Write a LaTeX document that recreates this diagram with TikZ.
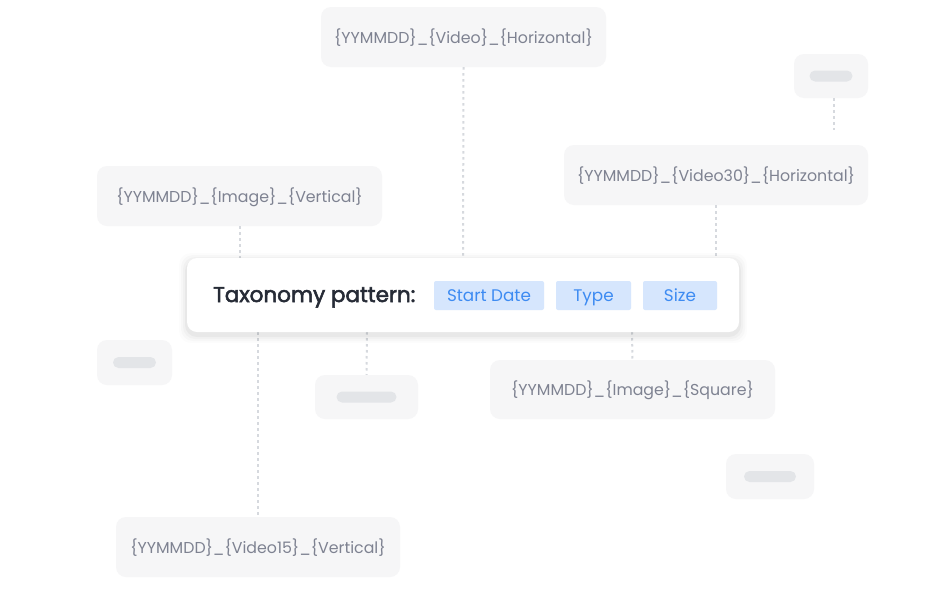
\documentclass[tikz,border=0pt]{standalone}
\usepackage{fontspec}
\setmainfont{Poppins}
\newfontfamily\titlefont[FakeBold=2.5]{Poppins}
\begin{document}
\begin{tikzpicture}[x=1pt,y=-1pt,
  tag/.style={fill=boxfill,rounded corners=10pt,inner sep=0pt,text height=15pt,text depth=3pt,font=\fontsize{15.8}{18}\selectfont,text=labelgray},
  pill/.style={fill=pillgray,rounded corners=5.5pt,minimum height=11pt,inner sep=0pt},
  chip/.style={fill=chipfill,rounded corners=2pt,minimum height=29pt,inner sep=0pt,text height=15pt,text depth=3pt,font=\fontsize{16.8}{19}\selectfont,text=chiptext},
  link/.style={draw=dotgray,line width=2pt,dash pattern=on 2.5pt off 3.5pt}]
\definecolor{boxfill}{HTML}{F6F6F7}
\definecolor{labelgray}{HTML}{7E8291}
\definecolor{pillgray}{HTML}{E3E5E8}
\definecolor{dotgray}{HTML}{D6D9DE}
\definecolor{chipfill}{HTML}{D6E6FD}
\definecolor{chiptext}{HTML}{3D8BF2}
\definecolor{darktext}{HTML}{262B36}
\useasboundingbox[fill=white] (0,0) rectangle (942,600);

% boxes
\node[tag,minimum width=285pt,minimum height=60pt] (vh) at (463.5,37) {\{YYMMDD\}\_\{Video\}\_\{Horizontal\}};
\node[tag,minimum width=74pt,minimum height=44pt] (str) at (831,76) {};
\node[pill,minimum width=43pt] (ptr) at (str.center) {};
\node[tag,minimum width=304pt,minimum height=60pt] (v30) at (716,175) {\{YYMMDD\}\_\{Video30\}\_\{Horizontal\}};
\node[tag,minimum width=285pt,minimum height=60pt] (iv) at (239.5,196) {\{YYMMDD\}\_\{Image\}\_\{Vertical\}};
\node[tag,minimum width=75pt,minimum height=45pt] (sl) at (134.5,362.5) {};
\node[pill,minimum width=43pt] (pl) at (sl.center) {};
\node[tag,minimum width=103pt,minimum height=44pt] (sm) at (366.5,397) {};
\node[pill,minimum width=60pt] (pm) at (sm.center) {};
\node[tag,minimum width=285pt,minimum height=59pt] (is) at (632.5,389.5) {\{YYMMDD\}\_\{Image\}\_\{Square\}};
\node[tag,minimum width=88pt,minimum height=45pt] (sbr) at (770,476.5) {};
\node[pill,minimum width=52pt] (pbr) at (sbr.center) {};
\node[tag,minimum width=284pt,minimum height=60pt] (v15) at (258,547) {\{YYMMDD\}\_\{Video15\}\_\{Vertical\}};
\coordinate (strend) at (834,130);

% connectors
\draw[link] (vh.south) -- (463,258);
\draw[link] (834,98) -- (strend);
\draw[link] (716,205) -- (716,258);
\draw[link] (240,226) -- (240,258);
\draw[link] (258,332) -- (v15.north);
\draw[link] (367,332) -- (sm.north);
\draw[link] (632,332) -- (is.north);

% main box with soft shadow
\foreach \i/\o in {8/0.012,6/0.018,4/0.025,2/0.035}{
  \fill[black,opacity=\o,rounded corners=12pt] (187-\i,258-\i+3) rectangle (739+\i,332+\i+3);
}
\node[fill=white,rounded corners=10pt,minimum width=552pt,minimum height=74pt,inner sep=0pt] (main) at (463,295) {};
\node[anchor=west,inner sep=0pt,text height=15pt,text depth=3pt,text=darktext,font=\fontsize{21.5}{24}\titlefont] (title) at (213,296) {Taxonomy pattern:};
\node[chip,minimum width=110pt] (c1) at (489,295.5) {Start Date};
\node[chip,minimum width=75pt] (c2) at (593.5,295.5) {Type};
\node[chip,minimum width=74pt] (c3) at (680,295.5) {Size};
\end{tikzpicture}
\end{document}
